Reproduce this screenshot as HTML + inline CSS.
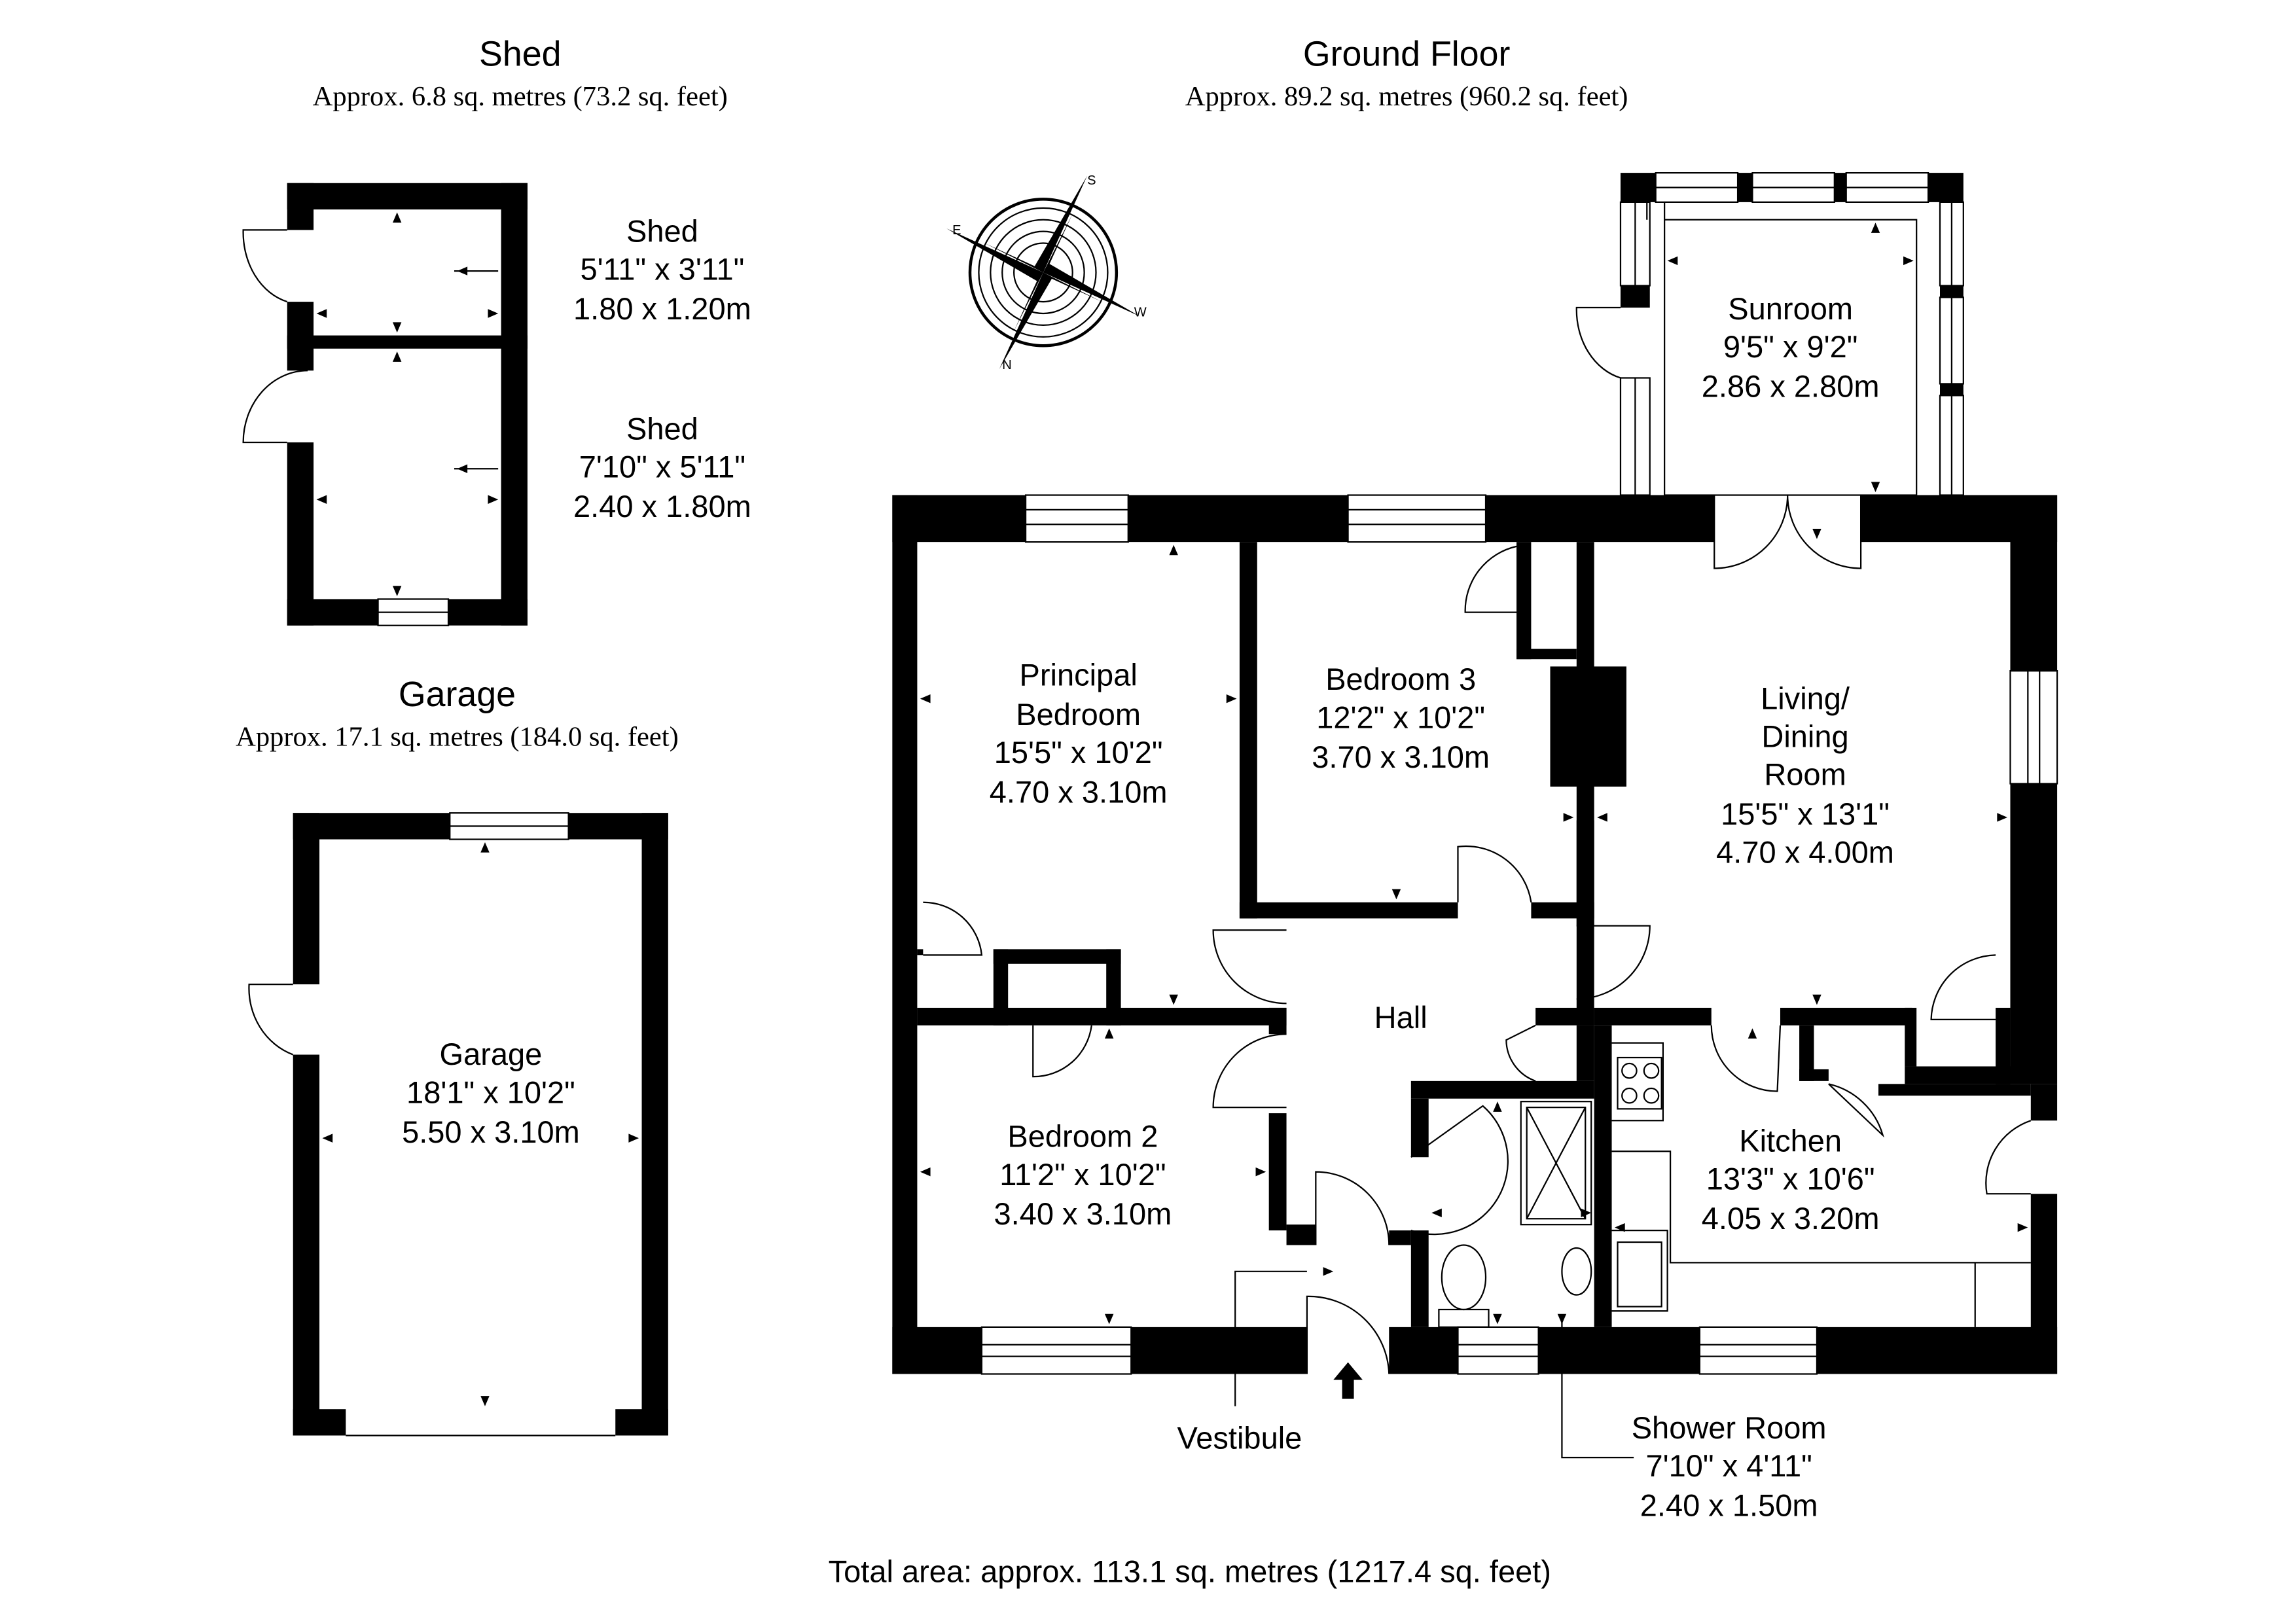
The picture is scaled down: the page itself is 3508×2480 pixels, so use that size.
<!DOCTYPE html>
<html><head><meta charset="utf-8"><style>
html,body{margin:0;padding:0;background:#fff;}
svg{display:block;}
text{font-family:"Liberation Sans",sans-serif;fill:#000;}
.s{font-family:"Liberation Serif",serif;}
</style></head><body>
<svg width="3508" height="2480" viewBox="0 0 1567 1108" preserveAspectRatio="none" xmlns="http://www.w3.org/2000/svg">
<rect width="1567" height="1108" fill="#fff"/>
<g text-anchor="middle">
<text x="355" y="45" font-size="24">Shed</text>
<text x="355" y="72" font-size="19" class="s">Approx. 6.8 sq. metres (73.2 sq. feet)</text>
<text x="960" y="45" font-size="24">Ground Floor</text>
<text x="960" y="72" font-size="19" class="s">Approx. 89.2 sq. metres (960.2 sq. feet)</text>
<text x="312" y="482" font-size="24">Garage</text>
<text x="312" y="509" font-size="19" class="s">Approx. 17.1 sq. metres (184.0 sq. feet)</text>
<text x="812" y="1080" font-size="21">Total area: approx. 113.1 sq. metres (1217.4 sq. feet)</text>
</g>

<g fill="#000">
<rect x="196" y="125" width="164" height="18"/>
<rect x="342" y="125" width="18" height="302"/>
<rect x="196" y="409" width="62" height="18"/>
<rect x="306" y="409" width="54" height="18"/>
<rect x="196" y="125" width="18" height="32"/>
<rect x="196" y="206" width="18" height="47"/>
<rect x="196" y="302" width="18" height="125"/>
<rect x="196" y="229" width="164" height="9"/>
</g>
<rect x="258" y="409" width="48" height="18" fill="#fff" stroke="#000" stroke-width="1"/>
<line x1="258" y1="418" x2="306" y2="418" stroke="#000"/>
<g fill="none" stroke="#000" stroke-width="1">
<path d="M196 157 L166 157 A 40 49 0 0 0 196 206"/>
<path d="M210 253 A 44 49 0 0 0 166 302 L196 302"/>
<line x1="310" y1="185" x2="340" y2="185"/><line x1="310" y1="320" x2="340" y2="320"/>
</g>
<g text-anchor="middle" font-size="21">
<text x="452" y="165">Shed</text><text x="452" y="191">5'11" x 3'11"</text><text x="452" y="218">1.80 x 1.20m</text>
<text x="452" y="300">Shed</text><text x="452" y="326">7'10" x 5'11"</text><text x="452" y="353">2.40 x 1.80m</text>
</g>
<g fill="#000">
<path d="M271 145 l-3 7 h6z"/><path d="M271 227 l-3 -7 h6z"/><path d="M216 214 l7 -3 v6z"/><path d="M340 214 l-7 -3 v6z"/>
<path d="M312 185 l7 -3 v6z"/><path d="M271 240 l-3 7 h6z"/><path d="M271 407 l-3 -7 h6z"/>
<path d="M216 341 l7 -3 v6z"/><path d="M340 341 l-7 -3 v6z"/><path d="M312 320 l7 -3 v6z"/>
</g>

<g fill="#000">
<rect x="200" y="555" width="107" height="18"/>
<rect x="388" y="555" width="68" height="18"/>
<rect x="438" y="555" width="18" height="425"/>
<rect x="200" y="555" width="18" height="117"/>
<rect x="200" y="720" width="18" height="260"/>
<rect x="200" y="962" width="36" height="18"/>
<rect x="420" y="962" width="36" height="18"/>
</g>
<rect x="307" y="555" width="81" height="18" fill="#fff" stroke="#000"/>
<line x1="307" y1="564" x2="388" y2="564" stroke="#000"/>
<line x1="236" y1="980" x2="420" y2="980" stroke="#000"/>
<path d="M200 672 L170 672 A 45 48 0 0 0 200 720" fill="none" stroke="#000"/>
<g text-anchor="middle" font-size="21">
<text x="335" y="727">Garage</text><text x="335" y="753">18'1" x 10'2"</text><text x="335" y="780">5.50 x 3.10m</text>
</g>
<g fill="#000">
<path d="M331 575 l-3 7 h6z"/><path d="M331 960 l-3 -7 h6z"/><path d="M220 777 l7 -3 v6z"/><path d="M436 777 l-7 -3 v6z"/>
</g>

<g transform="translate(712,186)" stroke="#000" fill="none">
<circle r="50" stroke-width="2"/><circle r="44"/><circle r="36"/><circle r="28"/><circle r="20"/>
<g fill="#000" stroke="none">
<path d="M0 0 L-6 -4 L30 -66 Z"/>
<path d="M0 0 L6 4 L-30 66 Z"/>
<path d="M0 0 L4 -6 L66 30 Z"/>
<path d="M0 0 L-4 6 L-66 -30 Z"/>
<path d="M0 0 L-3 -3 L-40 -20 Z"/><path d="M0 0 L3 3 L40 20 Z"/>
<path d="M0 0 L-3 3 L-20 40 Z"/><path d="M0 0 L3 -3 L20 -40 Z"/>
</g>
<text x="30" y="-60" font-size="9" stroke="none" fill="#000">S</text>
<text x="-62" y="-26" font-size="9" stroke="none" fill="#000">E</text>
<text x="62" y="30" font-size="9" stroke="none" fill="#000">W</text>
<text x="-28" y="66" font-size="9" stroke="none" fill="#000">N</text>
</g>

<g fill="#000">
<rect x="1106" y="118" width="24" height="20"/><rect x="1316" y="118" width="24" height="20"/>
<rect x="1186" y="118" width="10" height="20"/><rect x="1252" y="118" width="8" height="20"/>
<rect x="1106" y="195" width="20" height="15"/><rect x="1324" y="195" width="16" height="8"/>
<rect x="1324" y="262" width="16" height="8"/>
</g>
<g fill="none" stroke="#000">
<rect x="1130" y="118" width="56" height="20"/><rect x="1196" y="118" width="56" height="20"/><rect x="1260" y="118" width="56" height="20"/>
<line x1="1130" y1="128" x2="1316" y2="128"/>
<path d="M1124 138 L1124 150 M1136 138 L1136 150"/>
<rect x="1106" y="138" width="20" height="57"/><line x1="1116" y1="138" x2="1116" y2="195"/>
<rect x="1106" y="258" width="20" height="80"/><line x1="1116" y1="258" x2="1116" y2="338"/>
<rect x="1324" y="138" width="16" height="57"/><line x1="1332" y1="138" x2="1332" y2="195"/>
<rect x="1324" y="203" width="16" height="59"/><line x1="1332" y1="203" x2="1332" y2="262"/>
<rect x="1324" y="270" width="16" height="68"/><line x1="1332" y1="270" x2="1332" y2="338"/>
<rect x="1136" y="150" width="172" height="188"/>
<path d="M1106 210 L1076 210 A 40 48 0 0 0 1106 258"/>
<path d="M1170 338 L1170 388 A 50 50 0 0 0 1220 338 A 50 50 0 0 0 1270 388 L1270 338"/>
</g>
<g text-anchor="middle" font-size="21">
<text x="1222" y="218">Sunroom</text><text x="1222" y="244">9'5" x 9'2"</text><text x="1222" y="271">2.86 x 2.80m</text>
</g>

<g fill="#000">
<rect x="609" y="338" width="91" height="32"/>
<rect x="770" y="338" width="150" height="32"/>
<rect x="1014" y="338" width="156" height="32"/>
<rect x="1270" y="338" width="134" height="32"/>
<rect x="609" y="338" width="17" height="600"/>
<rect x="1372" y="338" width="32" height="120"/>
<rect x="1372" y="535" width="32" height="205"/>
<rect x="1386" y="740" width="18" height="25"/>
<rect x="1386" y="815" width="18" height="123"/>
<rect x="609" y="906" width="61" height="32"/>
<rect x="772" y="906" width="120" height="32"/>
<rect x="948" y="906" width="47" height="32"/>
<rect x="1050" y="906" width="110" height="32"/>
<rect x="1240" y="906" width="164" height="32"/>
<rect x="846" y="370" width="12" height="257"/>
<rect x="846" y="616" width="149" height="11"/>
<rect x="1045" y="616" width="43" height="11"/>
<rect x="1076" y="370" width="12" height="262"/>
<rect x="1035" y="370" width="10" height="80"/>
<rect x="1035" y="443" width="41" height="7"/>
<rect x="1058" y="455" width="52" height="82"/>
<rect x="1076" y="560" width="12" height="72"/>
<rect x="626" y="688" width="252" height="12"/>
<rect x="626" y="648" width="4" height="4"/>
<rect x="678" y="648" width="87" height="10"/>
<rect x="678" y="648" width="10" height="52"/>
<rect x="755" y="648" width="10" height="52"/>
<rect x="866" y="688" width="12" height="18"/>
<rect x="866" y="760" width="12" height="80"/>
<rect x="878" y="836" width="20" height="14"/>
<rect x="1076" y="632" width="12" height="68"/>
<rect x="1088" y="688" width="80" height="12"/>
<rect x="1215" y="688" width="90" height="12"/>
<rect x="1300" y="688" width="8" height="40"/>
<rect x="1362" y="688" width="10" height="52"/>
<rect x="1300" y="728" width="72" height="12"/>
<rect x="1228" y="700" width="10" height="38"/>
<rect x="1228" y="730" width="20" height="8"/>
<rect x="1088" y="700" width="12" height="206"/>
<rect x="963" y="738" width="125" height="12"/>
<rect x="1048" y="688" width="40" height="12"/>
<rect x="1076" y="700" width="12" height="38"/>
<rect x="963" y="750" width="12" height="40"/>
<rect x="963" y="840" width="12" height="66"/>
<rect x="948" y="840" width="15" height="10"/>
<rect x="1282" y="740" width="104" height="8"/>
</g>
<g fill="#fff" stroke="#000">
<rect x="700" y="338" width="70" height="32"/><rect x="920" y="338" width="94" height="32"/>
<rect x="1372" y="458" width="32" height="77"/>
<rect x="670" y="906" width="102" height="32"/><rect x="995" y="906" width="55" height="32"/><rect x="1160" y="906" width="80" height="32"/>
</g>
<g stroke="#000" fill="none">
<path d="M700 348 H770 M700 358 H770 M920 348 H1014 M920 358 H1014"/>
<path d="M1384 458 V535 M1392 458 V535"/>
<path d="M670 918 H772 M670 926 H772 M995 918 H1050 M995 926 H1050 M1160 918 H1240 M1160 926 H1240"/>
<path d="M1035 373 A 45 45 0 0 0 1000 418 L1035 418"/>
<path d="M995 616 L995 578 A 45 45 0 0 1 1045 616"/>
<path d="M878 635 L828 635 A 50 50 0 0 0 878 685"/>
<path d="M1076 632 L1126 632 A 50 50 0 0 1 1076 682"/>
<path d="M878 706 A 50 50 0 0 0 828 756 L878 756"/>
<path d="M630 616 A 40 40 0 0 1 670 652 L630 652"/>
<path d="M705 700 L705 735 A 40 40 0 0 0 745 700"/>
<path d="M1168 700 A 45 45 0 0 0 1213 745 L1215 700"/>
<path d="M1362 652 A 45 45 0 0 0 1318 696 L1362 696"/>
<path d="M1248 740 L1285 775 A 50 50 0 0 0 1248 740"/>
<path d="M1048 700 L1028 710 A 30 30 0 0 0 1048 738"/>
<path d="M963 790 L1012 755 A 50 50 0 0 1 963 840"/>
<path d="M898 850 L898 800 A 50 50 0 0 1 948 850"/>
<path d="M892 938 L892 885 A 55 55 0 0 1 948 938"/>
<path d="M1386 765 A 45 45 0 0 0 1356 815 L1386 815"/>
<path d="M892 868 L843 868 L843 960"/>
<path d="M1066 902 L1066 995 L1115 995"/>
<path d="M1100 712 H1135 V765 H1100"/>
<path d="M1100 786 H1140 V862 H1386 M1348 862 V906"/>
<path d="M1100 840 H1138 V895 H1100"/>
<rect x="1104" y="722" width="30" height="35"/>
<circle cx="1112" cy="731" r="5"/><circle cx="1127" cy="731" r="5"/><circle cx="1112" cy="748" r="5"/><circle cx="1127" cy="748" r="5"/>
<rect x="1104" y="848" width="30" height="44"/>
<rect x="1038" y="752" width="48" height="84"/><rect x="1042" y="756" width="40" height="76"/>
<path d="M1042 756 L1082 832 M1082 756 L1042 832"/>
<rect x="982" y="894" width="34" height="12"/>
<ellipse cx="999" cy="872" rx="15" ry="22"/>
<ellipse cx="1076" cy="868" rx="10" ry="16"/>
</g>
<path d="M920 930 L910 942 H916 V955 H924 V942 H930 Z" fill="#000"/>
<g fill="#000">
<path d="M801 372 l-3 7 h6z"/><path d="M801 686 l-3 -7 h6z"/><path d="M628 477 l7 -3 v6z"/><path d="M844 477 l-7 -3 v6z"/>
<path d="M953 614 l-3 -7 h6z"/><path d="M1074 558 l-7 -3 v6z"/><path d="M1090 558 l7 -3 v6z"/><path d="M1370 558 l-7 -3 v6z"/>
<path d="M1240 686 l-3 -7 h6z"/><path d="M1196 702 l-3 7 h6z"/><path d="M1240 368 l-3 -7 h6z"/><path d="M1280 336 l-3 -7 h6z"/><path d="M1280 152 l-3 7 h6z"/>
<path d="M1138 178 l7 -3 v6z"/><path d="M1306 178 l-7 -3 v6z"/>
<path d="M628 800 l7 -3 v6z"/><path d="M864 800 l-7 -3 v6z"/><path d="M757 702 l-3 7 h6z"/><path d="M757 904 l-3 -7 h6z"/>
<path d="M910 868 l-7 -3 v6z"/><path d="M1022 752 l-3 7 h6z"/><path d="M1022 904 l-3 -7 h6z"/><path d="M1066 904 l-3 -7 h6z"/>
<path d="M1102 838 l7 -3 v6z"/><path d="M1384 838 l-7 -3 v6z"/><path d="M977 828 l7 -3 v6z"/><path d="M1086 828 l-7 -3 v6z"/>
</g>
<g text-anchor="middle" font-size="21">
<text x="736" y="468">Principal</text><text x="736" y="495">Bedroom</text><text x="736" y="521">15'5" x 10'2"</text><text x="736" y="548">4.70 x 3.10m</text>
<text x="956" y="471">Bedroom 3</text><text x="956" y="497">12'2" x 10'2"</text><text x="956" y="524">3.70 x 3.10m</text>
<text x="1232" y="484">Living/</text><text x="1232" y="510">Dining</text><text x="1232" y="536">Room</text><text x="1232" y="563">15'5" x 13'1"</text><text x="1232" y="589">4.70 x 4.00m</text>
<text x="956" y="702">Hall</text>
<text x="739" y="783">Bedroom 2</text><text x="739" y="809">11'2" x 10'2"</text><text x="739" y="836">3.40 x 3.10m</text>
<text x="1222" y="786">Kitchen</text><text x="1222" y="812">13'3" x 10'6"</text><text x="1222" y="839">4.05 x 3.20m</text>
<text x="846" y="989">Vestibule</text>
<text x="1180" y="982">Shower Room</text><text x="1180" y="1008">7'10" x 4'11"</text><text x="1180" y="1035">2.40 x 1.50m</text>
</g>
</svg>
</body></html>
